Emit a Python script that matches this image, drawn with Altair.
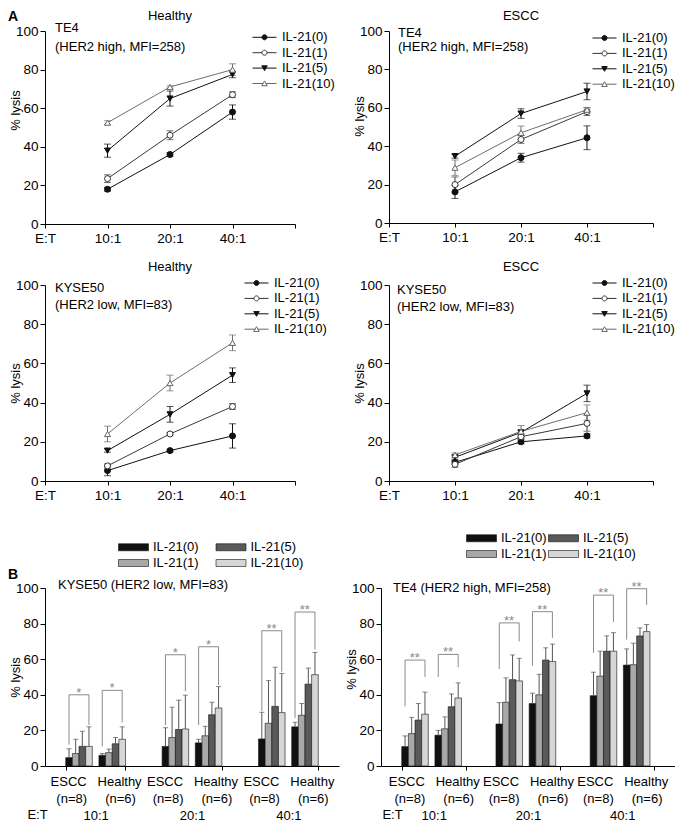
import altair as alt
import pandas as pd

FONT = "Liberation Sans"
NB = "\u00a0"

series = ["IL-21(0)", "IL-21(1)", "IL-21(5)", "IL-21(10)"]
et_labels = ["10:1", "20:1", "40:1"]

# ---- Panel A: mean % lysis and error, [series][E:T] ----
te4_healthy_mean = [[18, 36, 58], [23.5, 46, 67], [38, 65, 77.5], [52.5, 71, 80]]
te4_healthy_err = [[1, 1, 3.7], [2, 2.3, 1.5], [3.4, 3.9, 1.7], [1, 0.6, 3]]
te4_escc_mean = [[16.2, 34, 44.4], [20, 43.5, 58], [34.8, 57, 68.5], [28.8, 47, 59]]
te4_escc_err = [[3.4, 2.3, 6.2], [4, 2, 2], [1, 2.5, 4.3], [4, 3.5, 1]]
kyse_healthy_mean = [[5.3, 15.5, 23], [7.7, 24, 38], [15.5, 34, 54], [24, 50, 70.5]]
kyse_healthy_err = [[2.6, 0.6, 6.2], [1, 0.6, 1.5], [0.8, 4, 3.7], [4, 4, 4]]
kyse_escc_mean = [[9.5, 20, 23], [8.5, 22.6, 29.4], [12.1, 24.8, 44.7], [13.3, 25.3, 34.9]]
kyse_escc_err = [[1, 1, 1], [1.5, 1, 4], [1, 1, 4.2], [1, 3, 3.9]]

# ---- Panel B: mean % lysis and error (upper), [series][E:T] ----
kyse_bar_escc_mean = [[4.7, 11, 15.2], [7, 16, 24], [11, 20.5, 33.5], [11, 20.8, 30]]
kyse_bar_escc_err = [[5, 10.5, 15], [8, 17, 24], [8.5, 16.5, 22], [11, 19, 22]]
kyse_bar_healthy_mean = [[6, 13, 22], [7.5, 17, 28.5], [12.5, 28.8, 46], [15, 32.6, 51.3]]
kyse_bar_healthy_err = [[1, 2, 2.6], [2, 5.3, 6.6], [3.5, 7, 9], [7, 12, 12.5]]
te4_bar_escc_mean = [[10.9, 23.6, 39.5], [18.2, 35.8, 50.5], [25.8, 48.5, 64.5], [29.1, 47.8, 64.5]]
te4_bar_escc_err = [[6, 12, 13.2], [9.1, 13.7, 14], [9.3, 13.9, 8.6], [12.4, 12.7, 10.4]]
te4_bar_healthy_mean = [[17.3, 35.1, 56.7], [20.9, 40, 56.9], [33.3, 59.5, 73.1], [38.2, 58.7, 75.5]]
te4_bar_healthy_err = [[2.7, 5.8, 9.1], [6.7, 11.5, 12.1], [7.2, 6.9, 4.5], [8.5, 9.8, 4]]

# significance brackets per E:T: [top, left leg end, right leg end]
kyse_escc_bracket = [[40, 12, 23], [62.5, 23, 42], [76, 31, 53]]
kyse_healthy_bracket = [[42.5, 11, 24.5], [67, 23, 45.5], [86.5, 27, 65.5]]
kyse_stars = ["*", "*", "**"]
te4_escc_bracket = [[59.5, 33.5, 50], [80.4, 54.5, 70], [96, 63.6, 81]]
te4_healthy_bracket = [[62.7, 50, 55.5], [86.7, 56.4, 72], [99.6, 71, 90.5]]
te4_stars = ["**", "**", "**"]

cohorts = ["ESCC", "Healthy"]
cohort_n = ["(n=8)", "(n=6)"]

# ---- styles ----
LINE_COLORS = ["#111111", "#3a3a3a", "#111111", "#6e6e6e"]
POINT_FILLS = ["#111111", "#ffffff", "#111111", "#ffffff"]
POINT_STROKES = ["#111111", "#333333", "#111111", "#666666"]
POINT_SHAPES = ["circle", "circle", "triangle-down", "triangle-up"]
LEGEND_PATHS = [
    "M-2.4,0H-0.5M0.5,0H2.4M-0.5,0A0.5,0.5,0,1,0,0.5,0A0.5,0.5,0,1,0,-0.5,0Z",
    "M-2.4,0H-0.5M0.5,0H2.4M-0.5,0A0.5,0.5,0,1,0,0.5,0A0.5,0.5,0,1,0,-0.5,0Z",
    "M-2.4,0H-0.3M0.3,0H2.4M-0.55,-0.45L0.55,-0.45L0,0.5Z",
    "M-2.4,0H-0.3M0.3,0H2.4M-0.55,0.45L0.55,0.45L0,-0.5Z",
]
BAR_FILLS = ["#111111", "#a8a8a8", "#5a5a5a", "#d6d6d6"]
BAR_SWATCH = "M-3,-0.7H3V0.7H-3Z"
X_DOMAIN = ["E:T"] + et_labels + ["end"]
SLOTS = [f"ESCC|{s}" for s in series] + ["gap"] + [f"Healthy|{s}" for s in series]
INDEP = dict(fill="independent", shape="independent", stroke="independent", color="independent")


def y_axis(title_y=None):
    kw = dict(title="% lysis", values=[0, 20, 40, 60, 80, 100], grid=False, tickSize=5,
              labelFontSize=13.5, labelPadding=2, titleFontSize=13, titleFontWeight="normal",
              titleX=-23, titleBaseline="bottom", titleAngle=270, titleAlign="center")
    if title_y is not None:
        kw["titleY"] = title_y
    return alt.Axis(**kw)


def text_layer(lines, x, y, size=13, weight="normal", lh=17, baseline="top", color="black", align="left"):
    return alt.Chart(alt.Data(values=[{"k": 1}])).mark_text(
        align=align, baseline=baseline, fontSize=size, fontWeight=weight, lineHeight=lh, color=color
    ).encode(x=alt.value(x), y=alt.value(y), text=alt.value(lines))


def line_panel(mean, err, title, note, width, height, title_y, lg_x, lg_y, tx, ty, lh,
               ytitle_y=None, letter=None):
    rows = []
    for si, s in enumerate(series):
        for ei, e in enumerate(et_labels):
            m, d = mean[si][ei], err[si][ei]
            rows.append({"series": s, "et": e, "mean": m, "lo": m - d, "hi": m + d})
    base = alt.Chart(pd.DataFrame(rows))
    xs = alt.Scale(type="point", domain=X_DOMAIN, padding=0)
    xa = alt.Axis(title=None, labelExpr="datum.value == 'end' ? '' : datum.value", labelAngle=0,
                  tickSize=4, labelPadding=3, labelFontSize=13.5, grid=False)
    ys = alt.Scale(domain=[0, 100], nice=False)
    ya = y_axis(ytitle_y)

    def X():
        return alt.X("et:N", scale=xs, axis=xa)

    def Y(f):
        return alt.Y(f, scale=ys, axis=ya)

    col = alt.Color("series:N", scale=alt.Scale(domain=series, range=LINE_COLORS), legend=None)
    lines = base.mark_line(strokeWidth=1).encode(x=X(), y=Y("mean:Q"), color=col)
    errs = base.mark_rule(strokeWidth=1).encode(x=X(), y=Y("lo:Q"), y2="hi:Q", color=col)
    cap_lo = base.mark_tick(thickness=1, size=7).encode(x=X(), y=Y("lo:Q"), color=col)
    cap_hi = base.mark_tick(thickness=1, size=7).encode(x=X(), y=Y("hi:Q"), color=col)
    pts = base.mark_point(filled=True, size=36, strokeWidth=1, opacity=1).encode(
        x=X(), y=Y("mean:Q"),
        shape=alt.Shape("series:N", scale=alt.Scale(domain=series, range=POINT_SHAPES), legend=None),
        fill=alt.Fill("series:N", scale=alt.Scale(domain=series, range=POINT_FILLS), legend=None),
        stroke=alt.Stroke("series:N", scale=alt.Scale(domain=series, range=POINT_STROKES), legend=None),
    )
    leg = alt.Legend(orient="none", legendX=lg_x, legendY=lg_y, title=None, labelFontSize=13,
                     labelOffset=11, symbolSize=100, symbolStrokeWidth=1, rowPadding=1.4, padding=0,
                     labelColor="black")
    key = base.transform_filter("false").mark_point(filled=True, strokeWidth=1, opacity=1).encode(
        shape=alt.Shape("series:N", scale=alt.Scale(domain=series, range=LEGEND_PATHS), legend=leg),
        fill=alt.Fill("series:N", scale=alt.Scale(domain=series, range=POINT_FILLS), legend=leg),
        stroke=alt.Stroke("series:N", scale=alt.Scale(domain=series, range=POINT_STROKES), legend=leg),
    )
    layers = [lines, errs, cap_lo, cap_hi, pts, text_layer(note, tx, ty, lh=lh),
              text_layer(title, width / 2, title_y, baseline="alphabetic", align="center"), key]
    if letter:
        layers.append(text_layer(letter, -37, -10, size=14, weight="bold", baseline="alphabetic"))
    return alt.layer(*layers).resolve_scale(
        shape="independent", fill="independent", stroke="independent"
    ).properties(width=width, height=height)


def bar_panel(e_mean, e_err, h_mean, h_err, e_br, h_br, stars, title_text, width, height, pi, po,
              lg_x, lg_y, col_pad, tx, ty, et_x, ytitle_y=None, letter=None):
    rows, brs, st = [], [], []
    for cohort, mean, err in [("ESCC", e_mean, e_err), ("Healthy", h_mean, h_err)]:
        for si, s in enumerate(series):
            for ei, e in enumerate(et_labels):
                rows.append({"et": e, "slot": f"{cohort}|{s}", "series": s,
                             "mean": mean[si][ei], "hi": mean[si][ei] + err[si][ei]})
    for cohort, br in [("ESCC", e_br), ("Healthy", h_br)]:
        for ei, e in enumerate(et_labels):
            top, lb, rb = br[ei]
            bid = f"{cohort}-{e}"
            brs += [
                {"et": e, "slot": f"{cohort}|IL-21(0)", "v": lb, "o": 0, "id": bid},
                {"et": e, "slot": f"{cohort}|IL-21(0)", "v": top, "o": 1, "id": bid},
                {"et": e, "slot": f"{cohort}|IL-21(10)", "v": top, "o": 2, "id": bid},
                {"et": e, "slot": f"{cohort}|IL-21(10)", "v": rb, "o": 3, "id": bid},
            ]
            st.append({"et": e, "slot": f"{cohort}|IL-21(5)", "v": top, "s": stars[ei]})
    line1 = cohorts[0] + NB * 3 + cohorts[1]
    line2 = cohort_n[0] + NB * 5 + cohort_n[1]
    label_expr = ("(datum.extra || indexof(" + str(et_labels) + ", datum.value) < 0) ? '' : "
                  "['" + line1 + "', '" + line2 + "', datum.value]")
    xa = alt.Axis(title="E:T", titleX=et_x, titleY=48.5, titleBaseline="middle", titleAlign="center",
                  titleAngle=0, titleFontSize=13, titleFontWeight="normal", labelExpr=label_expr,
                  labelAngle=0, labelLineHeight=17, labelPadding=5, tickSize=4, tickBand="extent",
                  labelOverlap=False, labelFontSize=13, grid=False)
    xs = alt.Scale(domain=et_labels, paddingInner=pi, paddingOuter=po)
    os_ = alt.Scale(domain=SLOTS, paddingInner=0, paddingOuter=0)
    ys = alt.Scale(domain=[0, 100], nice=False)
    ya = y_axis(ytitle_y)

    def X():
        return alt.X("et:N", scale=xs, axis=xa)

    def XO():
        return alt.XOffset("slot:N", scale=os_)

    def Y(f):
        return alt.Y(f, scale=ys, axis=ya, stack=None)

    leg = alt.Legend(orient="none", legendX=lg_x, legendY=lg_y, columns=2, columnPadding=col_pad,
                     title=None, symbolType=BAR_SWATCH, symbolSize=100, symbolStrokeColor="#111111",
                     symbolStrokeWidth=0.6, labelOffset=13, labelFontSize=13, rowPadding=2, padding=0,
                     labelColor="black")
    base = alt.Chart(pd.DataFrame(rows))
    bars = base.mark_bar(stroke="#111111", strokeWidth=0.6).encode(
        x=X(), xOffset=XO(), y=Y("mean:Q"),
        fill=alt.Fill("series:N", scale=alt.Scale(domain=series, range=BAR_FILLS), legend=leg),
    )
    errs = base.mark_rule(color="#555555", strokeWidth=1).encode(x=X(), xOffset=XO(), y=Y("mean:Q"), y2="hi:Q")
    caps = base.mark_tick(color="#555555", thickness=1, size=5).encode(x=X(), xOffset=XO(), y=Y("hi:Q"))
    brk = alt.Chart(pd.DataFrame(brs)).mark_line(color="#8a8a8a", strokeWidth=1).encode(
        x=X(), xOffset=XO(), y=Y("v:Q"), detail="id:N", order="o:Q")
    stx = alt.Chart(pd.DataFrame(st)).mark_text(color="#8a8a8a", fontSize=13, dx=-3.5, dy=2,
                                                baseline="alphabetic").encode(
        x=X(), xOffset=XO(), y=Y("v:Q"), text="s:N")
    layers = [bars, errs, caps, brk, stx,
              text_layer(title_text, tx, ty, baseline="alphabetic")]
    if letter:
        layers.append(text_layer(letter, -37, -9, size=14, weight="bold", baseline="alphabetic"))
    return alt.layer(*layers).properties(width=width, height=height)


A1 = line_panel(te4_healthy_mean, te4_healthy_err, "Healthy", ["TE4", "(HER2 high, MFI=258)"],
                250, 193, -11, 213, -0.2, 10, -9, 18.5, ytitle_y=79, letter="A")
A2 = line_panel(te4_escc_mean, te4_escc_err, "ESCC", ["TE4", "(HER2 high, MFI=258)"],
                264, 192, -11, 209, 0.5, 9, -4.2, 14, ytitle_y=85)
A3 = line_panel(kyse_healthy_mean, kyse_healthy_err, "Healthy", ["KYSE50", "(HER2 low, MFI=83)"],
                250, 196, -14, 205, -8.5, 10, -2.7, 17)
A4 = line_panel(kyse_escc_mean, kyse_escc_err, "ESCC", ["KYSE50", "(HER2 low, MFI=83)"],
                264, 196, -14, 209, -8.5, 8, -0.7, 17)

B1 = bar_panel(kyse_bar_escc_mean, kyse_bar_escc_err, kyse_bar_healthy_mean, kyse_bar_healthy_err,
               kyse_escc_bracket, kyse_healthy_bracket, kyse_stars, "KYSE50 (HER2 low, MFI=83)",
               294, 178, 0.38, 0.215, 82, -47.5, 15.5, 13, 1, -8, letter="B")
B2 = bar_panel(te4_bar_escc_mean, te4_bar_escc_err, te4_bar_healthy_mean, te4_bar_healthy_err,
               te4_escc_bracket, te4_healthy_bracket, te4_stars, "TE4 (HER2 high, MFI=258)",
               294, 178, 0.32, 0.22, 94, -56.5, 0, 12, 4.3, 11, ytitle_y=81)

row1 = alt.hconcat(A1, A2, spacing=94, bounds="flush").resolve_scale(**INDEP)
row2 = alt.hconcat(A3, A4, spacing=94, bounds="flush").resolve_scale(**INDEP)
row3 = alt.hconcat(B1, B2, spacing=42, bounds="flush").resolve_scale(**INDEP)
top = alt.vconcat(row1, row2, spacing=16).resolve_scale(**INDEP)

chart = alt.vconcat(top, row3, spacing=29).resolve_scale(**INDEP).properties(
    padding={"left": 0, "top": 2, "right": 0, "bottom": 0}
).configure(font=FONT).configure_view(stroke=None).configure_axis(
    domainColor="black", tickColor="black", labelColor="black", titleColor="black",
    labelFont=FONT, titleFont=FONT, grid=False
).configure_legend(labelFont=FONT).configure_title(font=FONT, color="black")

chart.save("out.html", embed_options={"renderer": "svg", "actions": False})
